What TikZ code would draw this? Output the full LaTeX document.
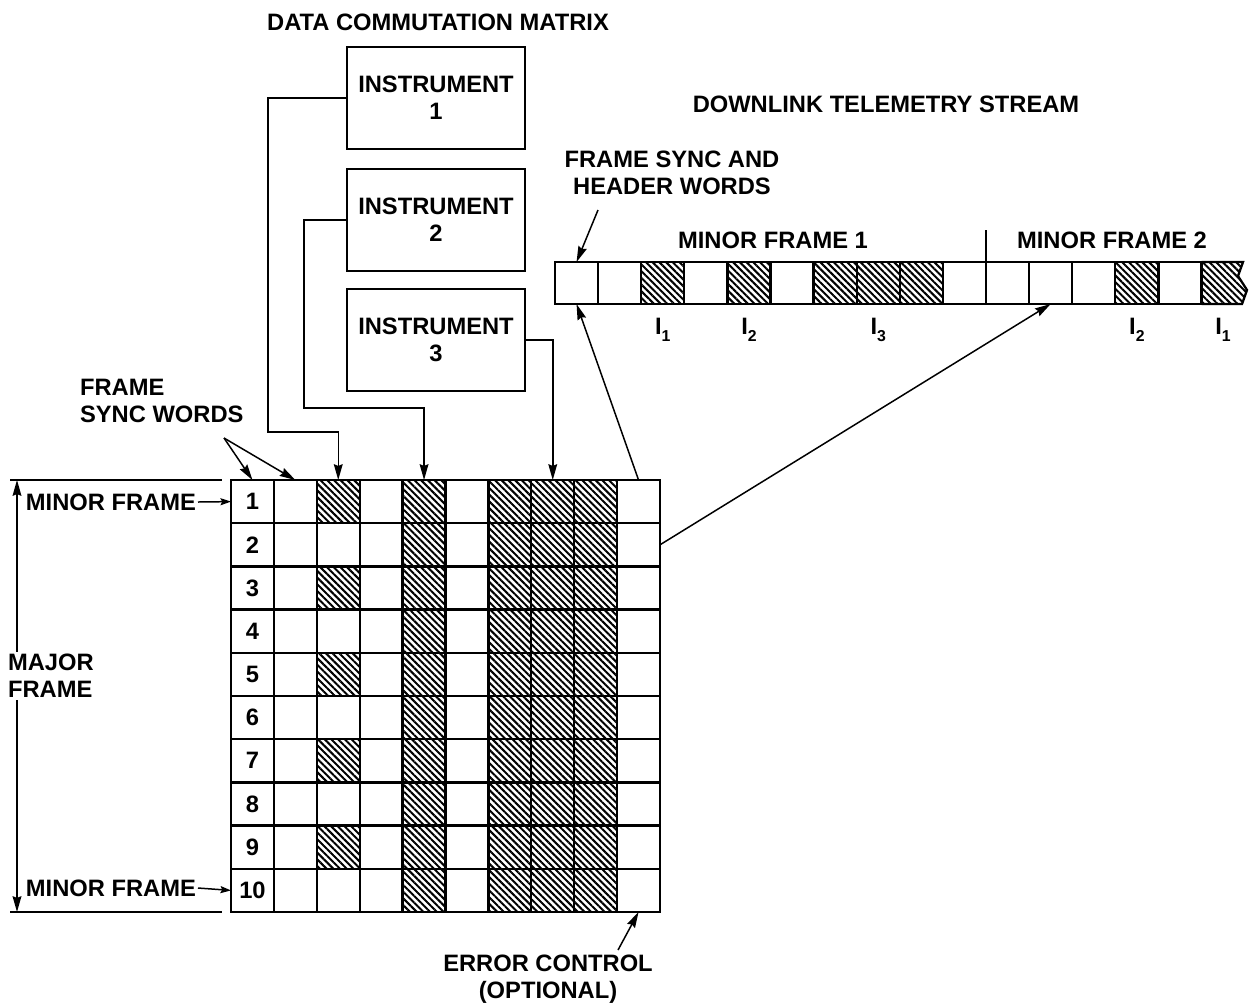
\documentclass[tikz,border=0pt]{standalone}
\usepackage{fontspec}
\setmainfont{Liberation Sans}
\usetikzlibrary{patterns.meta,arrows.meta}

\newcommand\Isub[1]{I\raisebox{-0.6ex}{\fontsize{9}{9}\selectfont #1}}

\tikzset{
  lbl/.style={font=\bfseries\fontsize{13.5}{15.5}\selectfont,align=center,inner sep=1pt},
  hatch/.style={pattern={Lines[angle=-45,distance=2.7pt,line width=1.15pt]}},
  maybehatch/.code={\ifnum#1=1 \pgfkeysalso{hatch}\fi},
  cell/.style={lbl,draw,line width=1.3pt,minimum width=0.858cm,minimum height=0.864cm,inner sep=0pt,outer sep=0pt},
  scell/.style={draw,line width=1.3pt,minimum width=0.862cm,minimum height=0.84cm,inner sep=0pt,outer sep=0pt},
  instbox/.style={lbl,draw,line width=1.3pt,minimum width=3.56cm,minimum height=2.04cm},
  wire/.style={line width=0.85pt},
  tip/.style={-{Stealth[length=9pt,width=5pt,inset=1pt]}},
  smalltip/.style={-{Stealth[length=6pt,width=4pt,inset=1pt]}}
}

\begin{document}
\begin{tikzpicture}[x=0.02cm,y=-0.02cm]
  \useasboundingbox (0,0) rectangle (1254,1005);

  \node[lbl] (dcm) at (438,22) {DATA COMMUTATION MATRIX};
  \node[lbl] (dts) at (886,104) {DOWNLINK TELEMETRY STREAM};

  % instruments
  \node[instbox] (inst1) at (436,98)  {INSTRUMENT\\1};
  \node[instbox] (inst2) at (436,220) {INSTRUMENT\\2};
  \node[instbox] (inst3) at (436,340) {INSTRUMENT\\3};

  % commutation matrix
  \foreach \row in {1,...,10}
    \foreach \col in {1,...,10} {
      \pgfmathtruncatemacro\h{(\col==5)||(\col==7)||(\col==8)||(\col==9)||((\col==3)&&isodd(\row))}
      \node[cell,maybehatch=\h] (c-\row-\col) at ({231+42.9*(\col-0.5)},{480+43.2*(\row-0.5)})
        {\ifnum\col=1 \row\fi};
    }

  % telemetry stream
  \foreach \i in {1,...,15} {
    \pgfmathtruncatemacro\h{(\i==3)||(\i==5)||(\i==7)||(\i==8)||(\i==9)||(\i==14)}
    \node[scell,maybehatch=\h] (s\i) at ({555+43.1*(\i-0.5)},283) {};
  }
  \node[minimum width=0.86cm,minimum height=0.84cm,inner sep=0pt,outer sep=0pt] (s16) at ({555+43.1*15.5},283) {};
  \draw[line width=1.3pt,hatch] (s15.north east) -- (1243,262) -- (1238,276) -- (1247,290)
    -- (1242,304) -- (s15.south east);
  \draw[wire] (s10.north east) -- ++(0,-32);

  \node[lbl] (mf1) at (773,240)  {MINOR FRAME 1};
  \node[lbl] (mf2) at (1112,240) {MINOR FRAME 2};
  \node[lbl] (i1a) at (s3.south |- 0,330)  {\Isub{1}};
  \node[lbl] (i2a) at (s5.south |- 0,330)  {\Isub{2}};
  \node[lbl] (i3a) at (s8.south |- 0,330)  {\Isub{3}};
  \node[lbl] (i2b) at (s14.south |- 0,330) {\Isub{2}};
  \node[lbl] (i1b) at (s16.south |- 0,330) {\Isub{1}};

  \node[lbl] (hdr) at (672,173) {FRAME SYNC AND\\HEADER WORDS};
  \coordinate (hdrtail) at (598,210);
  \draw[wire,tip] (hdrtail) -- (s1.north);

  % instruments into the matrix
  \draw[wire,tip] (inst1.west) -| (268,432) -| (c-1-3.north);
  \draw[wire,tip] (inst2.west) -| (304,408) -| (c-1-5.north);
  \draw[wire,tip] (inst3.east) -| (c-1-8.north);

  % matrix to stream
  \draw[wire,tip] (c-1-10.north) -- (s1.south);
  \draw[wire,tip] (c-2-10.east) -- (s12.south);

  \node[lbl,align=left,anchor=west] (fsw) at (78,401) {FRAME\\SYNC WORDS};
  \coordinate (fswtail) at (224,438);
  \foreach \to in {c-1-1,c-1-2}
    \draw[wire,tip] (fswtail) -- (\to.north);

  % major frame
  \coordinate (mtop) at (10,480);
  \coordinate (mbot) at (10,912);
  \draw[wire] (mtop) -- (222,480);
  \draw[wire] (mbot) -- (222,912);
  \draw[wire,{Stealth[length=9pt,width=5pt,inset=1pt]}-{Stealth[length=9pt,width=5pt,inset=1pt]}] (17,480) -- (17,912);
  \node[lbl,align=left,anchor=west,fill=white] (mjr) at (6,676) {MAJOR\\FRAME};

  \node[lbl,anchor=east] (mnr1) at (198,502) {MINOR FRAME};
  \node[lbl,anchor=east] (mnr2) at (198,888) {MINOR FRAME};
  \draw[wire,smalltip] (mnr1.east) -- (c-1-1.west);
  \draw[wire,smalltip] (mnr2.east) -- (c-10-1.west);

  \node[lbl] (err) at (548,979) {ERROR CONTROL\\(OPTIONAL)};
  \coordinate (errtail) at (618,950);
  \draw[wire,tip] (errtail) -- (c-10-10.south);

\end{tikzpicture}
\end{document}
